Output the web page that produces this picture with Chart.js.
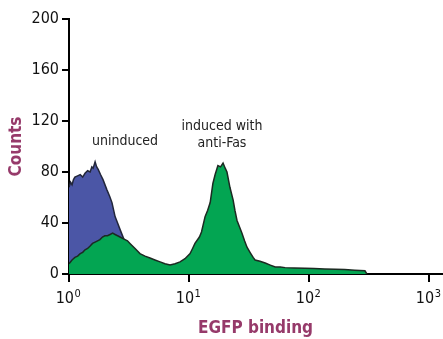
<!DOCTYPE html>
<html>
<head>
<meta charset="utf-8">
<script src="https://cdn.jsdelivr.net/npm/chart.js@4"></script>
<style>
  html, body { margin: 0; padding: 0; background: #fff; }
  #wrap { width: 443px; height: 339px; position: relative; }
</style>
</head>
<body>
<div id="wrap"><canvas id="histo"></canvas></div>
<script>
// fluorescence values (x) and counts (y)
const greenX = [1.00, 1.02, 1.06, 1.12, 1.18, 1.24, 1.30, 1.36, 1.43, 1.50, 1.57, 1.65, 1.73, 1.81, 1.90, 1.99, 2.09, 2.20, 2.31, 2.42, 2.54, 2.66, 2.79, 2.93, 3.07, 3.22, 3.38, 3.55, 3.72, 3.90, 4.30, 4.73, 5.20, 5.74, 6.30, 6.95, 7.65, 8.41, 9.25, 10.2, 10.7, 11.2, 12.2, 12.7, 13.6, 14.3, 15.0, 15.8, 16.5, 17.4, 18.3, 19.2, 20.0, 20.7, 21.9, 23.3, 24.1, 25.1, 26.3, 27.6, 29.0, 30.4, 32.2, 34.2, 35.5, 39.0, 43.1, 47.5, 52.3, 57.5, 63.1, 75.0, 92.3, 110, 135, 165, 198, 240, 292, 303];
const greenY = [8, 9, 11, 13, 14, 16, 17, 19, 20, 22, 24, 25, 26, 27, 29, 30, 30, 31, 32, 31, 30, 29, 28, 27, 26, 24, 22, 20, 18, 16, 14, 12.5, 11, 9.5, 8, 7, 8, 9.5, 12, 16, 20, 24, 29, 33, 45, 50, 56, 71, 78, 85, 84, 87, 83, 80, 68, 58, 50, 42, 37, 32, 26, 21, 17, 13, 11, 10, 8.6, 7, 5.5, 5.5, 5, 4.8, 4.5, 4.3, 4, 3.8, 3.5, 3, 2.5, 0];

const blueX = [1.00, 1.03, 1.06, 1.09, 1.12, 1.18, 1.24, 1.30, 1.36, 1.43, 1.50, 1.55, 1.59, 1.65, 1.70, 1.75, 1.83, 1.92, 2.07, 2.18, 2.28, 2.42, 2.54, 2.66, 2.93, 3.22, 3.55, 3.90, 4.30, 4.73];
const blueY = [68, 72, 70, 74, 76, 77, 78, 76, 79, 81, 80, 84, 83, 88, 84, 82, 78, 74, 66, 61, 56, 45, 40, 35, 25, 15, 9, 5, 2, 0];

const xTicks = [1, 10, 100, 1000];
const yTicks = [0, 40, 80, 120, 160, 200];

// annotation labels: [text, x value, count]
const notes = [
  ["uninduced", 2.93, 101],
  ["induced with", 18.8, 113],
  ["anti-Fas", 18.8, 100],
];

const FONT = '"Liberation Sans Narrow", "DejaVu Sans Condensed", "Arial Narrow", sans-serif';
const MAROON = "#963a6a";

function pts(xs, ys) {
  return xs.map((x, i) => ({ x: x, y: ys[i] }));
}

// draws 10^n tick labels and the curve labels
const extras = {
  id: "extras",
  afterDraw(chart) {
    const ctx = chart.ctx;
    const xs = chart.scales.x;
    const ys = chart.scales.y;
    ctx.save();
    ctx.fillStyle = "#111";
    ctx.textBaseline = "alphabetic";
    xTicks.forEach((v) => {
      const exp = String(Math.round(Math.log10(v)));
      ctx.font = "16px " + FONT;
      const wBase = ctx.measureText("10").width;
      ctx.font = "11px " + FONT;
      const wExp = ctx.measureText(exp).width;
      const px = xs.getPixelForValue(v);
      const left = px - (wBase + wExp) / 2 - 1;
      ctx.font = "16px " + FONT;
      ctx.textAlign = "left";
      ctx.fillText("10", left, ys.bottom + 29);
      ctx.font = "11px " + FONT;
      ctx.fillText(exp, left + wBase + 0.5, ys.bottom + 23);
    });
    ctx.font = "14px " + FONT;
    ctx.textAlign = "center";
    ctx.fillStyle = "#222";
    notes.forEach(([t, x, y]) => {
      ctx.fillText(t, xs.getPixelForValue(x), ys.getPixelForValue(y));
    });
    ctx.restore();
  },
};

const ctx = document.getElementById("histo").getContext("2d");
const histoChart = new Chart(ctx, {
  type: "scatter",
  data: {
    datasets: [
      {
        label: "induced with anti-Fas",
        data: pts(greenX, greenY),
        showLine: true,
        fill: "origin",
        backgroundColor: "#03a552",
        borderColor: "#1c2a22",
        borderWidth: 1.5,
        pointRadius: 0,
        order: 1,
      },
      {
        label: "uninduced",
        data: pts(blueX, blueY),
        showLine: true,
        fill: "origin",
        backgroundColor: "#4b56a6",
        borderColor: "#22263a",
        borderWidth: 1.5,
        pointRadius: 0,
        order: 2,
      },
    ],
  },
  options: {
    responsive: true,
    maintainAspectRatio: false,
    animation: false,
    layout: { padding: { left: 0, top: 19, right: 1, bottom: 0 } },
    plugins: { legend: { display: false }, tooltip: { enabled: false } },
    scales: {
      x: {
        type: "logarithmic",
        min: 1,
        max: 1280,
        afterBuildTicks(scale) {
          scale.ticks = xTicks.map((v) => ({ value: v }));
        },
        afterFit(scale) {
          scale.height = 65;
        },
        ticks: { display: false },
        grid: { drawOnChartArea: false, tickLength: 8, color: "#000", lineWidth: 2 },
        border: { color: "#000", width: 2 },
        title: {
          display: true,
          text: "EGFP binding",
          color: MAROON,
          font: { family: FONT, size: 17, weight: "bold" },
          padding: { top: 0, bottom: 0 },
        },
      },
      y: {
        min: 0,
        max: 200,
        afterBuildTicks(scale) {
          scale.ticks = yTicks.map((v) => ({ value: v }));
        },
        afterFit(scale) {
          scale.width = 69;
        },
        ticks: {
          color: "#111",
          padding: 3,
          font: { family: FONT, size: 16 },
        },
        grid: { drawOnChartArea: false, tickLength: 7, color: "#000", lineWidth: 2 },
        border: { color: "#000", width: 2 },
        title: {
          display: true,
          text: "Counts",
          color: MAROON,
          font: { family: FONT, size: 17, weight: "bold" },
          padding: { top: 6, bottom: 0 },
        },
      },
    },
  },
  plugins: [extras],
});
</script>
</body>
</html>
